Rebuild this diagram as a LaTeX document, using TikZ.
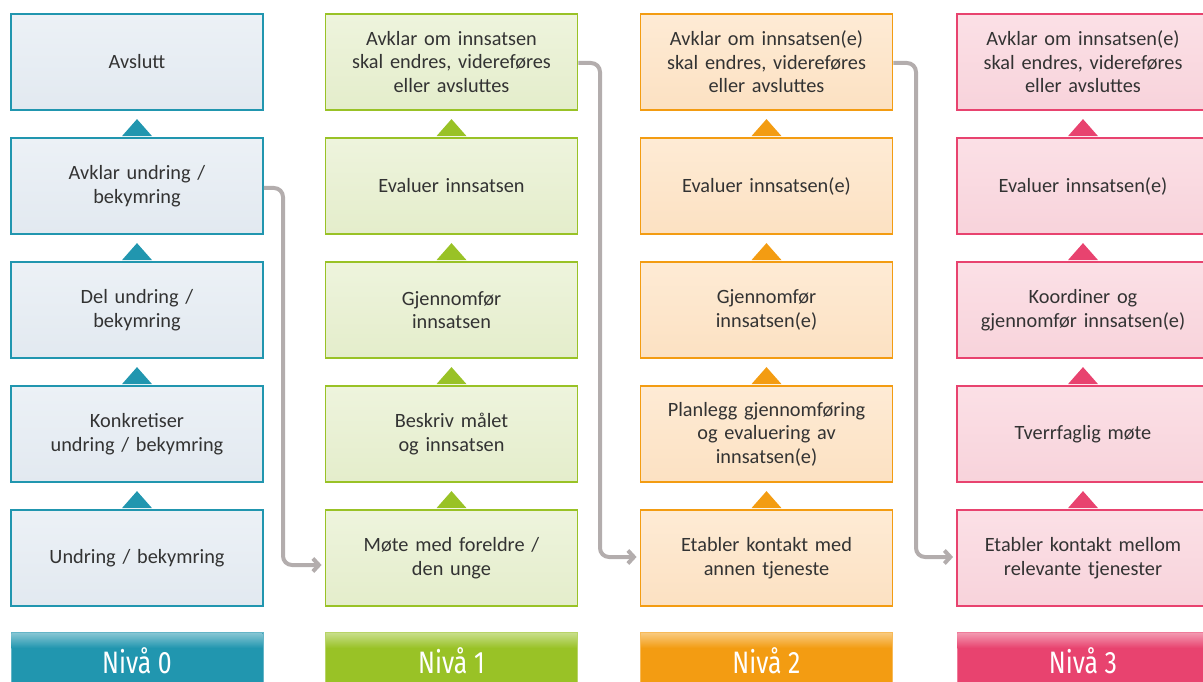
\documentclass[tikz,border=0pt]{standalone}
\usepackage{fontspec}
\setmainfont{Carlito}
\newfontfamily\levelfont[FakeStretch=0.8]{Fira Sans}
\usetikzlibrary{arrows.meta,calc}

\definecolor{txt}{HTML}{333333}
\definecolor{link}{HTML}{B3ADAD}
% level colours: edge, light fill top, light fill bottom
\definecolor{edgeA}{HTML}{2196AF}\definecolor{topA}{HTML}{ECF1F6}\definecolor{botA}{HTML}{E2E9F0}
\definecolor{edgeB}{HTML}{99C226}\definecolor{topB}{HTML}{EEF4DD}\definecolor{botB}{HTML}{E4EDCB}
\definecolor{edgeC}{HTML}{F39C12}\definecolor{topC}{HTML}{FEEBD5}\definecolor{botC}{HTML}{FCE1C2}
\definecolor{edgeD}{HTML}{E8436F}\definecolor{topD}{HTML}{FBE0E6}\definecolor{botD}{HTML}{F8D3DB}

\tikzset{
  x=1pt, y=-1pt,
  stepbox/.style={draw, line width=1.8pt, minimum width=252pt, minimum height=96pt,
    text width=244pt, align=center, text=txt,
    font=\fontsize{20.3}{23.5}\selectfont},
  boxA/.style={stepbox, draw=edgeA, top color=topA, bottom color=botA},
  boxB/.style={stepbox, draw=edgeB, top color=topB, bottom color=botB},
  boxC/.style={stepbox, draw=edgeC, top color=topC, bottom color=botC},
  boxD/.style={stepbox, draw=edgeD, top color=topD, bottom color=botD},
  levelbar/.style={anchor=north, minimum width=252pt, minimum height=58pt,
    fill=#1, draw=#1!70!white, line width=0.8pt, inner sep=0pt},
  levelshine/.style={top color=#1!55!white, bottom color=#1},
  leveltext/.style={text=white, font=\levelfont\fontsize{31}{31}\selectfont, inner sep=0pt},
  flow/.style={draw=link, line width=4pt, rounded corners=9pt,
    -{Straight Barb[length=6pt,width=13pt]}, shorten >=3pt},
}

\begin{document}
\begin{tikzpicture}
\useasboundingbox (0,0) rectangle (1203,682);
\clip (0,0) rectangle (1203,682);

% Level 0
\node[boxA] (a1) at (137,62)  {Avslutt};
\node[boxA] (a2) at (137,186) {Avklar undring /\\bekymring};
\node[boxA] (a3) at (137,310) {Del undring /\\bekymring};
\node[boxA] (a4) at (137,434) {Konkretiser\\undring / bekymring};
\node[boxA] (a5) at (137,558) {Undring / bekymring};

% Level 1
\node[boxB] (b1) at (451.5,62)  {Avklar om innsatsen\\skal endres, videreføres\\eller avsluttes};
\node[boxB] (b2) at (451.5,186) {Evaluer innsatsen};
\node[boxB] (b3) at (451.5,310) {Gjennomfør\\innsatsen};
\node[boxB] (b4) at (451.5,434) {Beskriv målet\\og innsatsen};
\node[boxB] (b5) at (451.5,558) {Møte med foreldre /\\den unge};

% Level 2
\node[boxC] (c1) at (766.5,62)  {Avklar om innsatsen(e)\\skal endres, videreføres\\eller avsluttes};
\node[boxC] (c2) at (766.5,186) {Evaluer innsatsen(e)};
\node[boxC] (c3) at (766.5,310) {Gjennomfør\\innsatsen(e)};
\node[boxC] (c4) at (766.5,434) {Planlegg gjennomføring\\og evaluering av\\innsatsen(e)};
\node[boxC] (c5) at (766.5,558) {Etabler kontakt med\\annen tjeneste};

% Level 3
\node[boxD] (d1) at (1083,62)  {Avklar om innsatsen(e)\\skal endres, videreføres\\eller avsluttes};
\node[boxD] (d2) at (1083,186) {Evaluer innsatsen(e)};
\node[boxD] (d3) at (1083,310) {Koordiner og\\gjennomfør innsatsen(e)};
\node[boxD] (d4) at (1083,434) {Tverrfaglig møte};
\node[boxD] (d5) at (1083,558) {Etabler kontakt mellom\\relevante tjenester};

% upward markers between the steps of each level
\foreach \col/\clr in {a/edgeA, b/edgeB, c/edgeC, d/edgeD}
  \foreach \r in {2,3,4,5}
    \fill[\clr] ($(\col\r.north)+(-15,-1)$) -- ($(\col\r.north)+(0,-18)$) -- ($(\col\r.north)+(15,-1)$) -- cycle;

% hand-over between levels
\coordinate (ab1) at (283,188);
\coordinate (ab2) at (283,565);
\draw[flow] ($(a2.east)+(0,2)$) -- (ab1) -- (ab2) -- (b5.west |- ab2);
\coordinate (bc1) at (600,63);
\coordinate (bc2) at (600,557);
\draw[flow] ($(b1.east)+(0,1)$) -- (bc1) -- (bc2) -- (c5.west |- bc2);
\coordinate (cd1) at (916,63);
\coordinate (cd2) at (916,557);
\draw[flow] ($(c1.east)+(0,1)$) -- (cd1) -- (cd2) -- (d5.west |- cd2);

% level captions (y grows downwards here, so positive shifts go down)
\foreach \n/\clr/\cx/\lbl in {la/edgeA/137/0, lb/edgeB/451.5/1, lc/edgeC/766.5/2, ld/edgeD/1083/3}{
  \node[levelbar=\clr] (\n) at (\cx,632) {};
  \shade[levelshine=\clr] ([shift={(1,1)}]\n.north west) rectangle ([shift={(-1,16)}]\n.north east);
  \node[leveltext] (\n t) at (\cx,661) {Nivå \lbl};
}
\end{tikzpicture}
\end{document}
